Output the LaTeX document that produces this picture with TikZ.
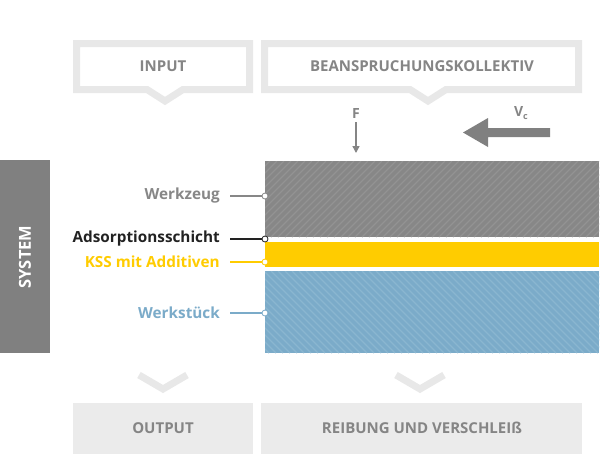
\documentclass[tikz,border=0pt]{standalone}
\usepackage{fontspec}
\setmainfont{Open Sans}
\usetikzlibrary{arrows.meta}
\definecolor{txtgray}{HTML}{858585}
\definecolor{boxgray}{HTML}{E8E8E8}
\definecolor{fillgray}{HTML}{EBEBEB}
\definecolor{toolgray}{HTML}{878787}
\definecolor{toolhatch}{HTML}{939393}
\definecolor{kss}{HTML}{FFCC00}
\definecolor{piece}{HTML}{7BABC9}
\definecolor{piecehatch}{HTML}{8AB6D0}
\definecolor{sysgray}{HTML}{808080}
\definecolor{adsblack}{HTML}{222222}
\begin{document}
\begin{tikzpicture}[x=1pt,y=-1pt,
  headtxt/.style={font=\fontsize{15}{17}\selectfont\bfseries, text=txtgray, inner sep=0pt},
  lbl/.style={font=\fontsize{15.3}{17}\selectfont\bfseries, inner sep=0pt, anchor=east},
  bubble/.style={draw=boxgray, line width=7pt, fill=white, line join=miter},
  chev/.style={draw=boxgray, line width=7pt, line join=miter},
  pin/.style={circle, draw, fill=white, line width=0.8pt, minimum size=6pt, inner sep=0pt}]
\useasboundingbox (0,0) rectangle (600,456);
\fill[white] (0,0) rectangle (600,456);

% top speech bubbles
\path[bubble] (76.5,43.5) -- (249.5,43.5) -- (249.5,89.5) -- (183,89.5) -- (165,101) -- (147,89.5) -- (76.5,89.5) -- cycle;
\path[bubble] (264.5,43.5) -- (578.5,43.5) -- (578.5,89.5) -- (446,89.5) -- (428,101) -- (410,89.5) -- (264.5,89.5) -- cycle;
\node[headtxt] (input) at (163,66) {INPUT};
\node[headtxt] (bean) at (422,66) {BEANSPRUCHUNGSKOLLEKTIV};

% F arrow
\node[font=\fontsize{14}{16}\selectfont\bfseries, text=txtgray, inner sep=0pt] (F) at (356,113) {F};
\coordinate (Fend) at (356,153);
\draw[txtgray, line width=1.4pt, -{Triangle[length=7pt,width=7pt]}] ([yshift=-4pt]F.south) -- (Fend);

% Vc arrow
\node[font=\fontsize{14}{16}\selectfont\bfseries, text=txtgray, inner sep=0pt] (Vc) at (521,113) {V\raisebox{-0.4ex}{\fontsize{9}{10}\selectfont c}};
\fill[sysgray] (550,128) -- (488,128) -- (488,118) -- (463,132.5) -- (488,147) -- (488,137) -- (550,137) -- cycle;

% SYSTEM bar
\fill[sysgray] (0,160) rectangle (50,353);
\node[rotate=90, text=white, font=\fontsize{16.5}{18}\selectfont\bfseries, inner sep=0pt] (sys) at (25,257) {SYSTEM};

% layers
\fill[toolgray] (265,161) rectangle (599,237);
\begin{scope}
  \clip (265,161) rectangle (599,237);
  \foreach \x in {180,187,...,610} {
    \draw[toolhatch, line width=1.2pt] (\x,237) -- (\x+76,161);
  }
\end{scope}
\fill[kss] (265,242) rectangle (599,267);
\fill[piece] (265,271) rectangle (599,353);
\begin{scope}
  \clip (265,271) rectangle (599,353);
  \foreach \x in {180,187,...,610} {
    \draw[piecehatch, line width=1.2pt] (\x,271) -- (\x+82,353);
  }
\end{scope}

% labels
\coordinate (p1) at (265,196);
\coordinate (p2) at (265,239);
\coordinate (p3) at (265,262);
\coordinate (p4) at (265,313);
\node[lbl, text=toolgray] (l1) at (220,196) {Werkzeug};
\node[lbl, text=adsblack] (l2) at (220,239) {Adsorptionsschicht};
\node[lbl, text=kss] (l3) at (220,262) {KSS mit Additiven};
\node[lbl, text=piece] (l4) at (220,313) {Werkstück};
\draw[toolgray, line width=1.6pt] ([xshift=10pt]l1.east) -- (p1);
\draw[adsblack, line width=1.6pt] ([xshift=10pt]l2.east) -- (p2);
\draw[kss, line width=1.6pt] ([xshift=10pt]l3.east) -- (p3);
\draw[piece, line width=1.6pt] ([xshift=10pt]l4.east) -- (p4);
\node[pin, draw=toolgray] at (p1) {};
\node[pin, draw=adsblack] at (p2) {};
\node[pin, draw=kss] at (p3) {};
\node[pin, draw=piece] at (p4) {};

% bottom chevrons
\draw[chev] (139,375) -- (163,389) -- (187,375);
\draw[chev] (396,375) -- (420,389) -- (444,375);

% bottom boxes
\fill[fillgray] (73,403) rectangle (253,454);
\fill[fillgray] (261,403) rectangle (582,454);
\node[headtxt] (out) at (163,428) {OUTPUT};
\node[headtxt] (reib) at (422,428) {REIBUNG UND VERSCHLEIß};
\end{tikzpicture}
\end{document}
